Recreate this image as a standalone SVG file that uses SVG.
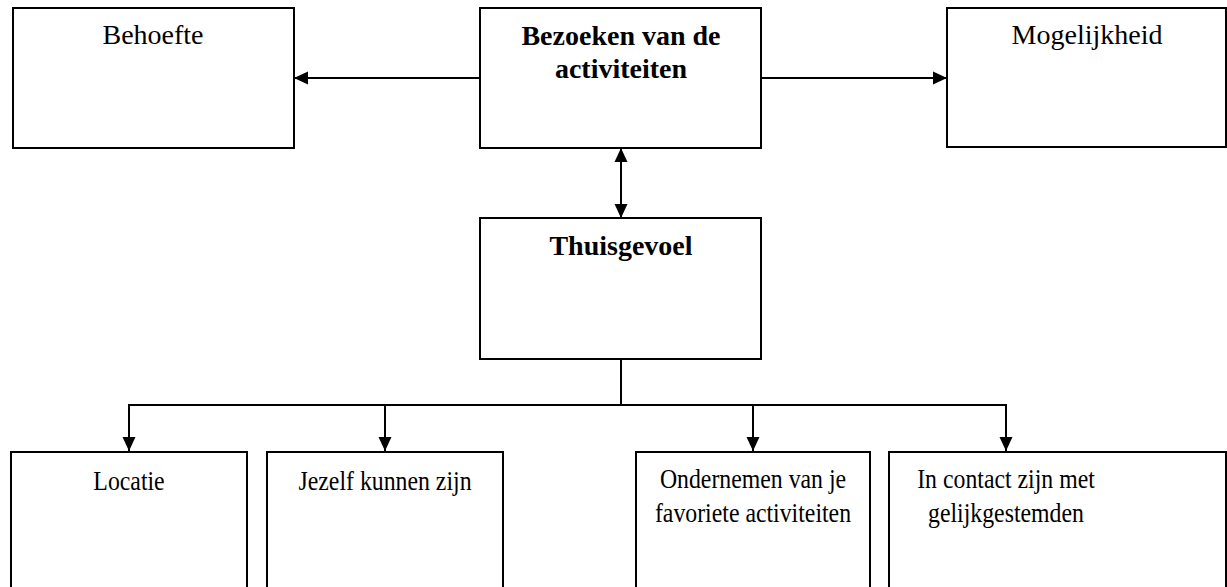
<svg xmlns="http://www.w3.org/2000/svg" width="1227" height="587" viewBox="0 0 1227 587">
<style>
.box{fill:#fff;stroke:#000;stroke-width:2}
.ln{fill:none;stroke:#000;stroke-width:2}
.t{font-family:"Liberation Serif","Times New Roman",serif;font-size:28px;fill:#000;text-anchor:middle}
.b{font-weight:bold}
</style>
<defs>
<marker id="ah" markerWidth="14" markerHeight="14" viewBox="0 0 14 14" refX="14" refY="7" orient="auto-start-reverse" markerUnits="userSpaceOnUse">
<path d="M0,0.5 L14,7 L0,13.5 Z" fill="#000"/>
</marker>
</defs>
<rect width="1227" height="587" fill="#fff"/>
<g id="connectors">
<line class="ln" x1="480" y1="78" x2="294" y2="78" marker-end="url(#ah)"/>
<line class="ln" x1="761" y1="78" x2="947" y2="78" marker-end="url(#ah)"/>
<line class="ln" x1="621" y1="148" x2="621" y2="218" marker-start="url(#ah)" marker-end="url(#ah)"/>
<polyline class="ln" points="621,359 621,405"/>
<line class="ln" x1="128" y1="405" x2="1007" y2="405"/>
<line class="ln" x1="129" y1="405" x2="129" y2="451" marker-end="url(#ah)"/>
<line class="ln" x1="385" y1="405" x2="385" y2="451" marker-end="url(#ah)"/>
<line class="ln" x1="753" y1="405" x2="753" y2="451" marker-end="url(#ah)"/>
<line class="ln" x1="1006" y1="405" x2="1006" y2="451" marker-end="url(#ah)"/>
</g>
<g id="behoefte">
<rect class="box" x="13" y="8" width="281" height="140"/>
<text class="t" x="153" y="44">Behoefte</text>
</g>
<g id="bezoeken">
<rect class="box" x="480" y="8" width="281" height="140"/>
<text class="t b" x="621" y="45">Bezoeken van de</text>
<text class="t b" x="621" y="78">activiteiten</text>
</g>
<g id="mogelijkheid">
<rect class="box" x="947" y="8" width="279" height="139"/>
<text class="t" x="1087" y="44">Mogelijkheid</text>
</g>
<g id="thuisgevoel">
<rect class="box" x="480" y="218" width="281" height="141"/>
<text class="t b" x="621" y="255">Thuisgevoel</text>
</g>
<g id="locatie">
<rect class="box" x="11" y="452" width="236" height="150"/>
<text class="t" transform="translate(129,490) scale(0.85,1)">Locatie</text>
</g>
<g id="jezelf">
<rect class="box" x="267" y="452" width="236" height="150"/>
<text class="t" transform="translate(385,490) scale(0.85,1)">Jezelf kunnen zijn</text>
</g>
<g id="ondernemen">
<rect class="box" x="636" y="452" width="234" height="150"/>
<text class="t" transform="translate(753,488) scale(0.85,1)">Ondernemen van je</text>
<text class="t" transform="translate(753,522) scale(0.85,1)">favoriete activiteiten</text>
</g>
<g id="contact">
<rect class="box" x="889" y="452" width="337" height="150"/>
<text class="t" transform="translate(1006,488) scale(0.85,1)">In contact zijn met</text>
<text class="t" transform="translate(1006,522) scale(0.85,1)">gelijkgestemden</text>
</g>
</svg>
